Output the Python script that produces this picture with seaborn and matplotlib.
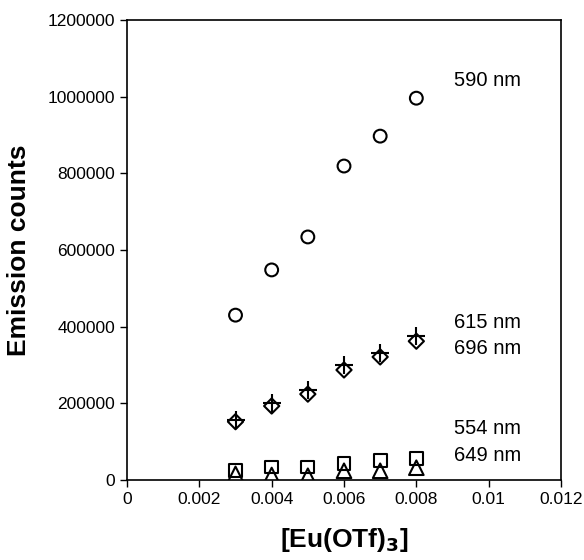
import matplotlib
matplotlib.use("Agg")
import matplotlib.pyplot as plt
import seaborn as sns
import pandas as pd

conc = [0.003, 0.004, 0.005, 0.006, 0.007, 0.008]
em590 = [430000, 548000, 634000, 819000, 897000, 996000]
em615 = [156000, 202000, 236000, 300000, 332000, 376000]
em696 = [152000, 193000, 224000, 287000, 321000, 362000]
em554 = [24000, 34000, 34000, 42000, 50000, 57000]
em649 = [16000, 13000, 11000, 24000, 24000, 32000]

series = {"590 nm": em590, "615 nm": em615, "696 nm": em696,
          "554 nm": em554, "649 nm": em649}
label_pos = {"590 nm": 1043000, "615 nm": 412000, "696 nm": 344000,
             "554 nm": 135000, "649 nm": 65000}
markers = {"590 nm": "o", "615 nm": "+", "696 nm": "D", "554 nm": "s", "649 nm": "^"}
sizes = {"590 nm": 85, "615 nm": 150, "696 nm": 60, "554 nm": 85, "649 nm": 110}

rows = []
for k, v in series.items():
    for c, e in zip(conc, v):
        rows.append({"conc": c, "em": e, "wl": k})
df = pd.DataFrame(rows)

sns.set_style("ticks")
plt.rcParams['font.family'] = ['Liberation Sans', 'DejaVu Sans']
plt.rcParams['text.color'] = 'black'
plt.rcParams['axes.labelcolor'] = 'black'
plt.rcParams['xtick.color'] = 'black'
plt.rcParams['ytick.color'] = 'black'

fig = plt.figure(figsize=(5.84, 5.60), dpi=100)
ax = fig.add_axes([0.2175, 0.1429, 0.7431, 0.8214])

for k in series:
    sub = df[df.wl == k]
    if markers[k] == "+":
        sns.scatterplot(data=sub, x="conc", y="em", marker="+", s=sizes[k],
                        color="black", linewidth=1.5, ax=ax, zorder=3)
    else:
        sns.scatterplot(data=sub, x="conc", y="em", marker=markers[k], s=sizes[k],
                        facecolor="none", edgecolor="black", linewidth=1.5, ax=ax, zorder=3)
    ax.text(0.00905, label_pos[k], k, fontsize=14.5, va="center", ha="left", color="black")

ax.set_xlim(0, 0.012)
ax.set_ylim(0, 1200000)
ax.set_xticks([0, 0.002, 0.004, 0.006, 0.008, 0.01, 0.012])
ax.set_xticklabels(["0", "0.002", "0.004", "0.006", "0.008", "0.01", "0.012"], fontsize=12.5)
ax.set_yticks(range(0, 1200001, 200000))
ax.set_yticklabels([str(v) for v in range(0, 1200001, 200000)], fontsize=12.5)
ax.tick_params(axis="both", direction="out", length=5, width=1, colors="black")
for sp in ax.spines.values():
    sp.set_visible(True)
    sp.set_linewidth(1.2)
    sp.set_color("black")
ax.set_xlabel("[Eu(OTf)$_\\mathbf{3}$]", fontsize=19, fontweight="bold", labelpad=14, color="black")
ax.set_ylabel("Emission counts", fontsize=19, fontweight="bold", labelpad=12, color="black")

fig.savefig("out.png", dpi=100)
